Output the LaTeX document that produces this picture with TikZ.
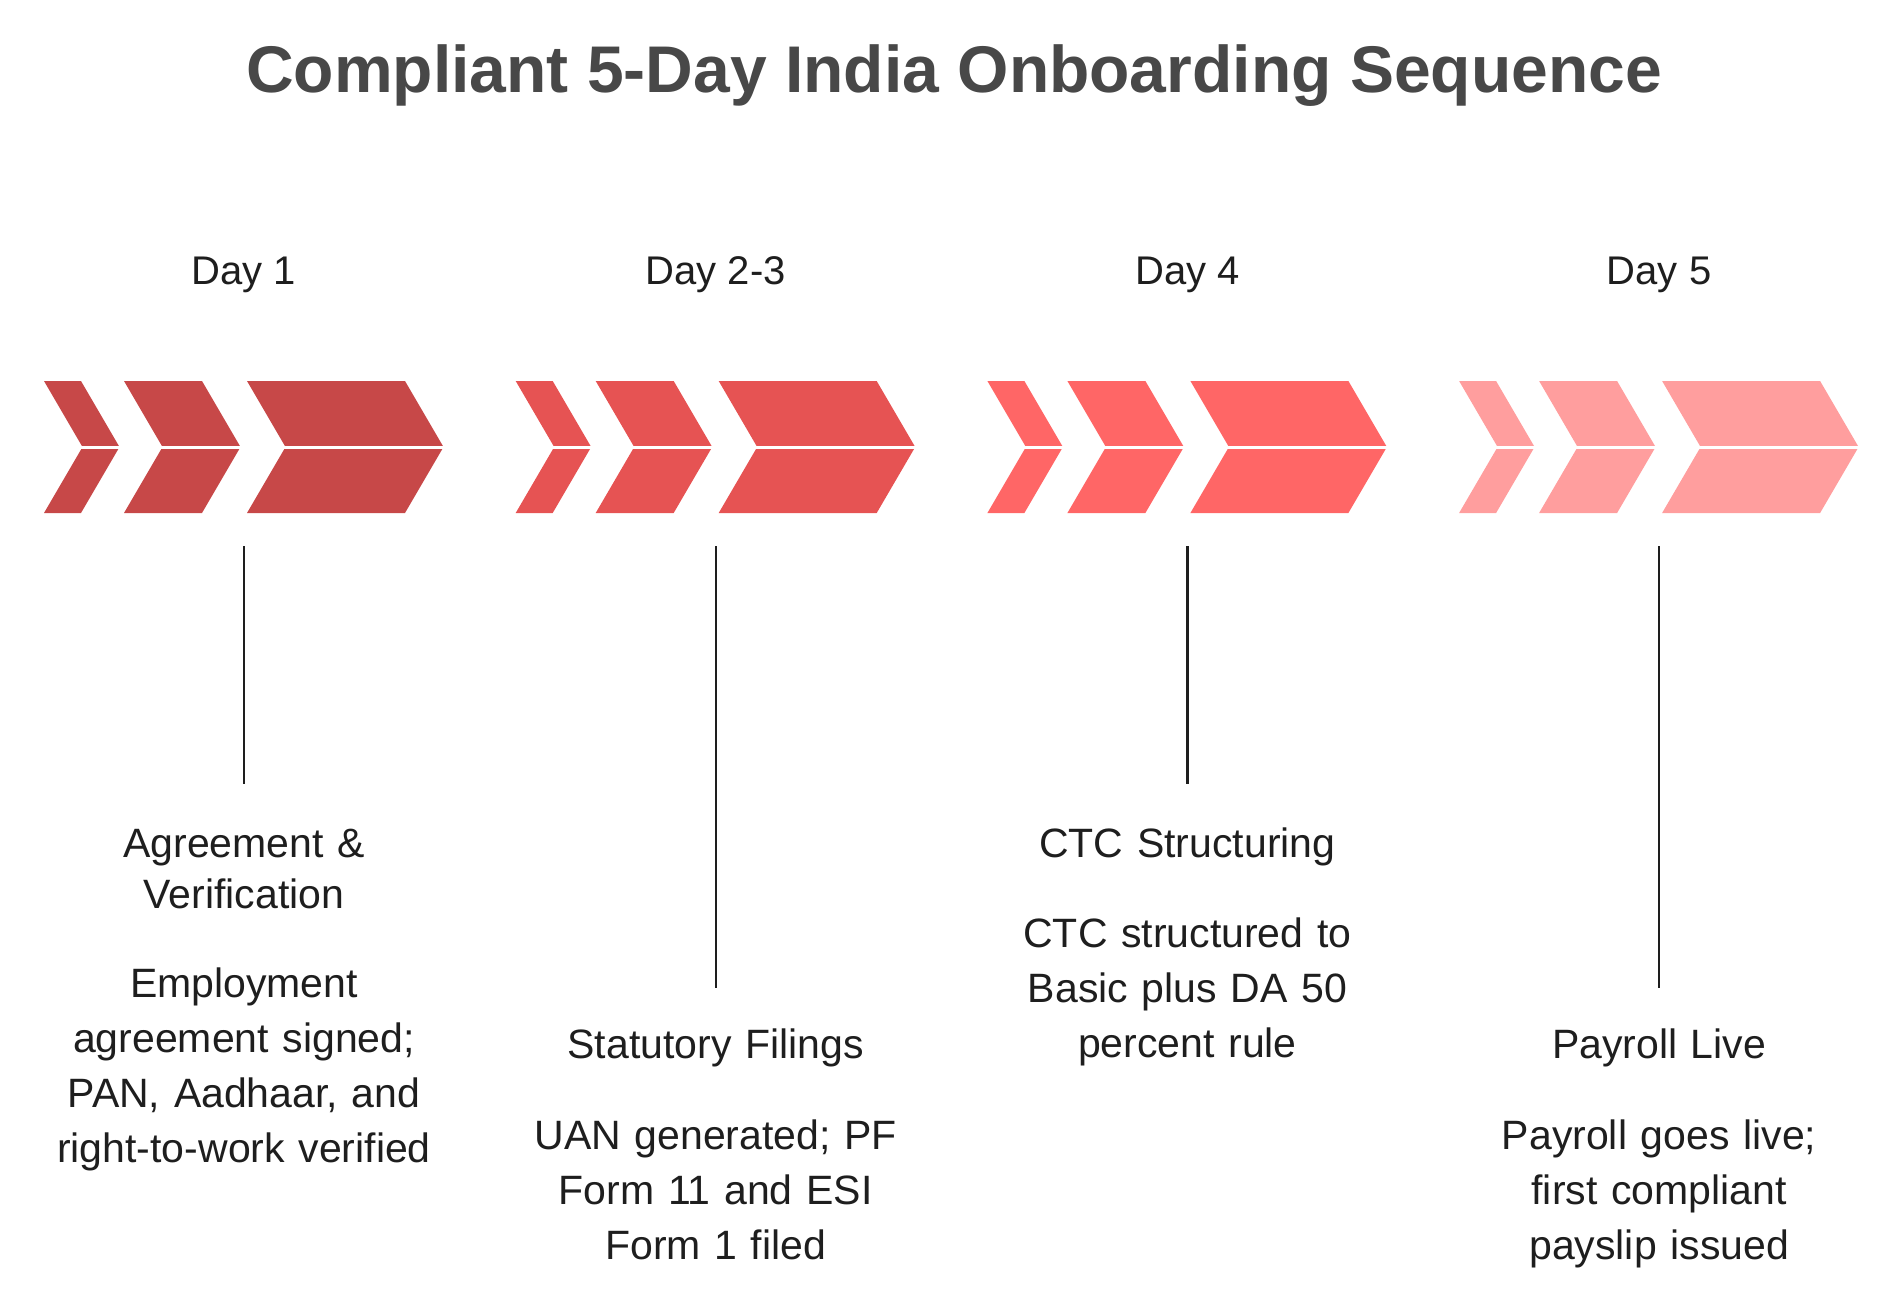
\documentclass[tikz,border=0pt]{standalone}
\usepackage{fontspec}
\setmainfont{Liberation Sans}
\definecolor{dayone}{HTML}{C74848}
\definecolor{daytwo}{HTML}{E65353}
\definecolor{dayfour}{HTML}{FF6666}
\definecolor{dayfive}{HTML}{FF9E9E}
\definecolor{titlegrey}{HTML}{484848}
\definecolor{inkdark}{HTML}{1E1E1E}
\begin{document}
\begin{tikzpicture}[x=0.5pt, y=-0.5pt,
  title node/.style={anchor=base, inner sep=0pt, text=titlegrey, font=\fontsize{33}{40}\selectfont\bfseries},
  day node/.style={anchor=base, inner sep=0pt, text=inkdark, font=\fontsize{20}{24}\selectfont},
  head node/.style={anchor=base, inner sep=0pt, align=center, text width=220pt, text=inkdark, font=\fontsize{20.5}{25.5}\selectfont},
  text node/.style={anchor=base, inner sep=0pt, align=center, text width=220pt, text=inkdark, font=\fontsize{20.5}{27.5}\selectfont},
  stem/.style={draw=inkdark, line width=1.1pt},
  gap/.style={draw=white, line width=1.5pt}]
\useasboundingbox (0,0) rectangle (1902,1311);

\node[title node] (title) at (954,93) {Compliant 5-Day India Onboarding Sequence};

%chevrons
\begin{scope}[xshift=244*0.5pt]
\fill[dayone] (-200,381) -- (-163,381) -- (-124.5,447) -- (-163,513) -- (-200,513) -- (-161.5,447) -- cycle;
\fill[dayone] (-120,381) -- (-42,381) -- (-3.5,447) -- (-42,513) -- (-120,513) -- (-81.5,447) -- cycle;
\fill[dayone] (3,381) -- (161,381) -- (199.5,447) -- (161,513) -- (3,513) -- (41.5,447) -- cycle;
\draw[gap] (-205,447) -- (205,447);
\end{scope}
\begin{scope}[xshift=715.7*0.5pt]
\fill[daytwo] (-200,381) -- (-163,381) -- (-124.5,447) -- (-163,513) -- (-200,513) -- (-161.5,447) -- cycle;
\fill[daytwo] (-120,381) -- (-42,381) -- (-3.5,447) -- (-42,513) -- (-120,513) -- (-81.5,447) -- cycle;
\fill[daytwo] (3,381) -- (161,381) -- (199.5,447) -- (161,513) -- (3,513) -- (41.5,447) -- cycle;
\draw[gap] (-205,447) -- (205,447);
\end{scope}
\begin{scope}[xshift=1187.4*0.5pt]
\fill[dayfour] (-200,381) -- (-163,381) -- (-124.5,447) -- (-163,513) -- (-200,513) -- (-161.5,447) -- cycle;
\fill[dayfour] (-120,381) -- (-42,381) -- (-3.5,447) -- (-42,513) -- (-120,513) -- (-81.5,447) -- cycle;
\fill[dayfour] (3,381) -- (161,381) -- (199.5,447) -- (161,513) -- (3,513) -- (41.5,447) -- cycle;
\draw[gap] (-205,447) -- (205,447);
\end{scope}
\begin{scope}[xshift=1659.1*0.5pt]
\fill[dayfive] (-200,381) -- (-163,381) -- (-124.5,447) -- (-163,513) -- (-200,513) -- (-161.5,447) -- cycle;
\fill[dayfive] (-120,381) -- (-42,381) -- (-3.5,447) -- (-42,513) -- (-120,513) -- (-81.5,447) -- cycle;
\fill[dayfive] (3,381) -- (161,381) -- (199.5,447) -- (161,513) -- (3,513) -- (41.5,447) -- cycle;
\draw[gap] (-205,447) -- (205,447);
\end{scope}

%day labels
\node[day node] (d1) at (244,284) {Day 1};
\node[day node] (d2) at (715.7,284) {Day 2-3};
\node[day node] (d3) at (1187.4,284) {Day 4};
\node[day node] (d4) at (1659.1,284) {Day 5};

%stems
\coordinate (s1) at (244,546);    \coordinate (e1) at (244,784);
\coordinate (s2) at (715.7,546);  \coordinate (e2) at (715.7,988);
\coordinate (s3) at (1187.4,546); \coordinate (e3) at (1187.4,784);
\coordinate (s4) at (1659.1,546); \coordinate (e4) at (1659.1,988);
\draw[stem] (s1) -- (e1);
\draw[stem] (s2) -- (e2);
\draw[stem] (s3) -- (e3);
\draw[stem] (s4) -- (e4);

%headings and texts
\node[head node] (h1) at (244,857) {Agreement \&\\Verification};
\node[text node] (t1) at (244,997) {Employment\\agreement signed;\\PAN, Aadhaar, and\\right-to-work verified};
\node[head node] (h2) at (715.7,1058) {Statutory Filings};
\node[text node] (t2) at (715.7,1149) {UAN generated; PF\\Form 11 and ESI\\Form 1 filed};
\node[head node] (h3) at (1187.4,857) {CTC Structuring};
\node[text node] (t3) at (1187.4,947) {CTC structured to\\Basic plus DA 50\\percent rule};
\node[head node] (h4) at (1659.1,1058) {Payroll Live};
\node[text node] (t4) at (1659.1,1149) {Payroll goes live;\\first compliant\\payslip issued};
\end{tikzpicture}
\end{document}
